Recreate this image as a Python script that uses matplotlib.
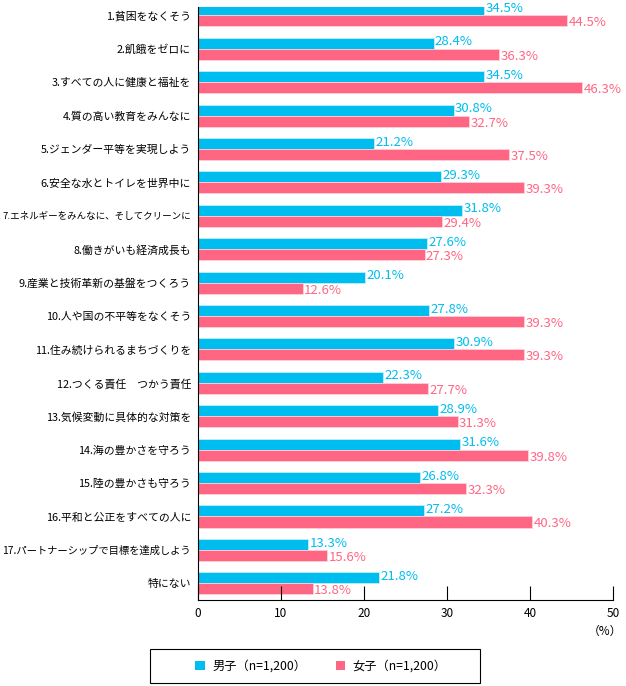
import matplotlib
matplotlib.use("Agg")
import matplotlib.pyplot as plt
from matplotlib.patches import Rectangle
import numpy as np

plt.rcParams['font.family'] = ['Noto Sans CJK JP', 'DejaVu Sans']

categories = ["1.貧困をなくそう", "2.飢餓をゼロに", "3.すべての人に健康と福祉を", "4.質の高い教育をみんなに",
              "5.ジェンダー平等を実現しよう", "6.安全な水とトイレを世界中に",
              "7.エネルギーをみんなに、そしてクリーンに", "8.働きがいも経済成長も",
              "9.産業と技術革新の基盤をつくろう", "10.人や国の不平等をなくそう",
              "11.住み続けられるまちづくりを", "12.つくる責任　つかう責任",
              "13.気候変動に具体的な対策を", "14.海の豊かさを守ろう", "15.陸の豊かさも守ろう",
              "16.平和と公正をすべての人に", "17.パートナーシップで目標を達成しよう", "特にない"]
boys = [34.5, 28.4, 34.5, 30.8, 21.2, 29.3, 31.8, 27.6, 20.1, 27.8, 30.9, 22.3, 28.9, 31.6, 26.8, 27.2, 13.3, 21.8]
girls = [44.5, 36.3, 46.3, 32.7, 37.5, 39.3, 29.4, 27.3, 12.6, 39.3, 39.3, 27.7, 31.3, 39.8, 32.3, 40.3, 15.6, 13.8]
series_names = ["男子（n=1,200）", "女子（n=1,200）"]
xticks = [0, 10, 20, 30, 40, 50]

blue = "#00BDF0"
pink = "#FF6683"

fig = plt.figure(figsize=(6.26, 6.86), dpi=100)
ax = fig.add_axes([198/626, 1-600/686, (613-198)/626, 593/686])

y = np.arange(len(categories))
h = 0.33
b1 = ax.barh(y - h/2, boys, height=h, color=blue, edgecolor="#bfeffc", linewidth=0.6, label=series_names[0])
b2 = ax.barh(y + h/2, girls, height=h, color=pink, edgecolor="#ffd0d8", linewidth=0.6, label=series_names[1])

for yi, v in zip(y, boys):
    ax.text(v + 0.15, yi - h/2 - 0.04, f"{v:.1f}%", color=blue, fontsize=9.5, va="center", ha="left")
for yi, v in zip(y, girls):
    ax.text(v + 0.15, yi + h/2 + 0.06, f"{v:.1f}%", color=pink, fontsize=9.5, va="center", ha="left")

ax.set_ylim(len(categories) - 0.5, -0.25)
ax.set_xlim(0, 50)
ax.set_yticks(y)
ax.set_yticklabels(categories, fontsize=7.8)
ax.tick_params(axis='y', length=0, pad=5)
ax.set_xticks(xticks)
ax.set_xticklabels([str(t) for t in xticks], fontsize=8.5)
ax.tick_params(axis='x', direction='in', length=10, width=0.8, pad=5)
for s in ["top", "right"]:
    ax.spines[s].set_visible(False)
for s in ["left", "bottom"]:
    ax.spines[s].set_linewidth(0.8)

# shrink long category labels to fit on the left
fig.canvas.draw()
renderer = fig.canvas.get_renderer()
for lab in ax.get_yticklabels():
    w = lab.get_window_extent(renderer).width
    if w > 190:
        lab.set_fontsize(lab.get_fontsize() * 190 / w)

fig.text(622/626, 1-631/686, "（%）", fontsize=8.5, ha="right", va="center")

fig.patches.append(Rectangle((150/626, 1-683/686), 330/626, 34/686, transform=fig.transFigure,
                             fill=False, edgecolor="black", linewidth=0.8))
leg = fig.legend(handles=[b1, b2], labels=series_names, loc="center left",
                 bbox_to_anchor=(189/626, 1-666/686), ncol=2, frameon=False,
                 fontsize=8.8, handlelength=0.8, handleheight=0.8, columnspacing=2.4,
                 borderpad=0.0, handletextpad=0.6)
for p in leg.get_patches():
    p.set_edgecolor("none")

fig.savefig("out.png", dpi=100)
